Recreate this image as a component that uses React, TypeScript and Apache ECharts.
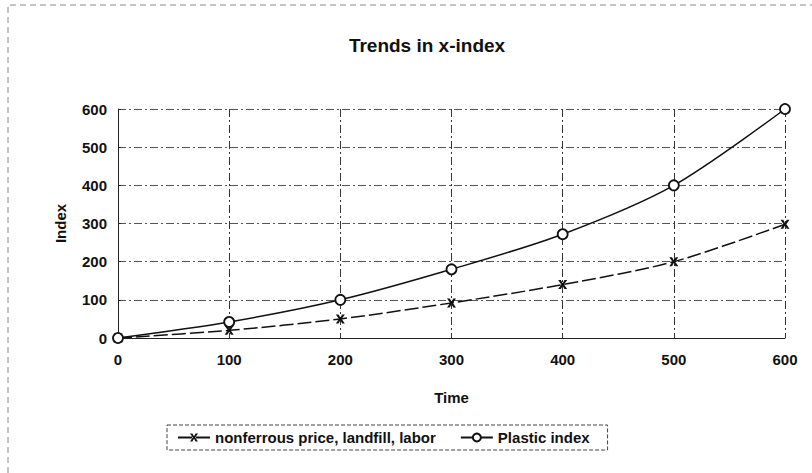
import React, { useEffect, useRef } from "react";
import * as echarts from "echarts";

const times = [0, 100, 200, 300, 400, 500, 600];
const nonferrous = [0, 20, 50, 92, 140, 200, 298];
const plastic = [0, 42, 100, 180, 272, 400, 600];
const seriesNames = ["nonferrous price, landfill, labor", "Plastic index"];

const xSymbol = "path://M0,0L3,0L5,3.5L7,0L10,0L6.5,5L10,10L7,10L5,6.5L3,10L0,10L3.5,5Z";

export default function App() {
  const ref = useRef<HTMLDivElement>(null);
  useEffect(() => {
    if (!ref.current) return;
    const chart = echarts.init(ref.current, null, { renderer: "svg" });
    const font = "'Liberation Sans', Arial, sans-serif";
    chart.setOption({
      animation: false,
      backgroundColor: "#fff",
      title: {
        text: "Trends in x-index",
        left: 422,
        textAlign: "center",
        top: 31,
        textStyle: { fontFamily: font, fontSize: 19, fontWeight: "bold", color: "#111" },
      },
      grid: { left: 118, right: 27, top: 109, bottom: 135 },
      xAxis: {
        type: "value",
        min: 0,
        max: 600,
        interval: 100,
        name: "Time",
        nameLocation: "middle",
        nameGap: 52,
        nameTextStyle: { fontFamily: font, fontSize: 15, fontWeight: "bold", color: "#111" },
        axisLine: { lineStyle: { color: "#222", width: 1 } },
        axisTick: { show: false },
        axisLabel: { fontFamily: font, fontSize: 15, fontWeight: "bold", color: "#111", margin: 14 },
        splitLine: { show: true, lineStyle: { color: "#333", width: 1, type: [8, 3, 2, 3] } },
      },
      yAxis: {
        type: "value",
        min: 0,
        max: 600,
        interval: 100,
        name: "Index",
        nameLocation: "middle",
        nameGap: 50,
        nameRotate: 90,
        nameTextStyle: { fontFamily: font, fontSize: 15, fontWeight: "bold", color: "#111" },
        axisLine: { show: true, lineStyle: { color: "#222", width: 1 } },
        axisTick: { show: true, inside: true, length: 3, lineStyle: { color: "#222" } },
        axisLabel: { fontFamily: font, fontSize: 15, fontWeight: "bold", color: "#111", margin: 11 },
        splitLine: { show: true, lineStyle: { color: "#555", width: 1, type: [8, 3, 2, 3] } },
      },
      legend: {
        left: 167,
        top: 425,
        data: seriesNames,
        itemWidth: 32,
        itemHeight: 10,
        itemGap: 24,
        padding: [5, 18, 5, 10],
        borderColor: "#444",
        borderWidth: 1,
        borderType: "dashed",
        textStyle: { fontFamily: font, fontSize: 15, fontWeight: "bold", color: "#111" },
      },
      graphic: [
        {
          type: "polyline",
          shape: { points: [[8, 473], [8, 5], [812, 5]] },
          style: { fill: "none", stroke: "#888", lineWidth: 1, lineDash: [6, 4] },
          silent: true,
        },
      ],
      series: [
        {
          name: seriesNames[0],
          type: "line",
          smooth: 0.3,
          data: times.map((t, i) => [t, nonferrous[i]]),
          symbol: xSymbol,
          symbolSize: 9,
          lineStyle: { color: "#111", width: 1.5, type: [14, 4] },
          itemStyle: { color: "#111", borderWidth: 0 },
        },
        {
          name: seriesNames[1],
          type: "line",
          smooth: 0.3,
          data: times.map((t, i) => [t, plastic[i]]),
          symbol: "circle",
          symbolSize: 10,
          showAllSymbol: true,
          lineStyle: { color: "#111", width: 1.5 },
          itemStyle: { color: "#fff", borderColor: "#111", borderWidth: 1.8 },
        },
      ],
    });
    return () => chart.dispose();
  }, []);
  return <div ref={ref} style={{ position: "absolute", left: 0, top: 0, width: 812, height: 473 }} />;
}
